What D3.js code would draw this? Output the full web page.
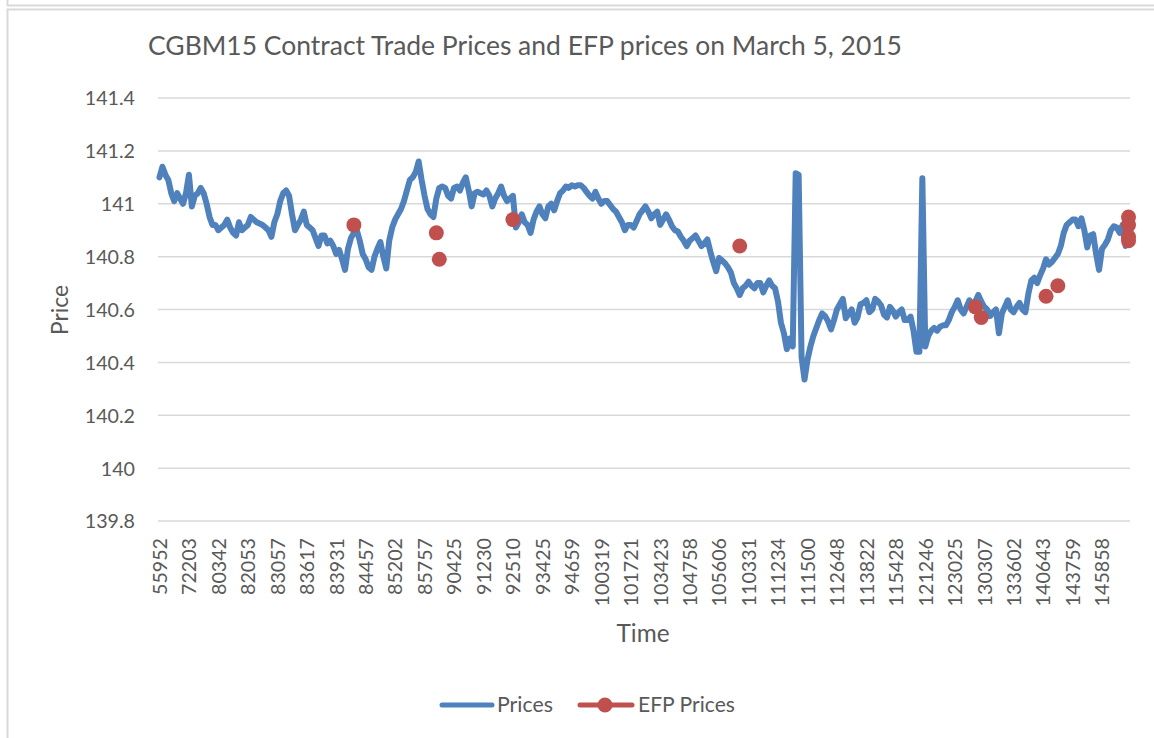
<!DOCTYPE html>
<html>
<head>
<meta charset="utf-8">
<script src="https://cdn.jsdelivr.net/npm/d3@7"></script>
<style>
  html, body { margin: 0; padding: 0; background: #ffffff; }
  svg { display: block; }
  text { font-family: Lato, 'Open Sans', 'Liberation Sans', sans-serif; fill: #595959; }
</style>
</head>
<body>
<svg id="chart" width="1154" height="738"></svg>
<script>
// ---------------- DATA ----------------
const chartTitle = "CGBM15 Contract Trade Prices and EFP prices on March 5, 2015";
const xAxisTitle = "Time";
const yAxisTitle = "Price";

// Category labels shown on the time axis (every 10th category)
const timeLabels = ["55952","72203","80342","82053","83057","83617","83931","84457","85202","85757",
  "90425","91230","92510","93425","94659","100319","101721","103423","104758","105606",
  "110331","111234","111500","112648","113822","115428","121246","123025","130307","133602",
  "140643","143759","145858"];
const labelEvery = 10;

// Y axis tick values
const yTicks = [139.8, 140, 140.2, 140.4, 140.6, 140.8, 141, 141.2, 141.4];

// Trade prices (sampled along the category axis)
const prices = [
  141.10,141.14,141.11,141.09,141.04,141.01,141.04,141.02,141.00,141.04,
  141.11,140.99,141.03,141.04,141.06,141.04,141.00,140.95,140.92,140.92,
  140.90,140.91,140.92,140.94,140.91,140.89,140.88,140.93,140.90,140.91,
  140.92,140.95,140.94,140.93,140.925,140.92,140.91,140.90,140.875,140.93,
  140.96,141.01,141.04,141.05,141.03,140.96,140.90,140.92,140.94,140.97,
  140.92,140.91,140.90,140.87,140.84,140.88,140.88,140.85,140.86,140.84,
  140.81,140.825,140.79,140.75,140.83,140.87,140.89,140.90,140.86,140.81,
  140.79,140.76,140.75,140.80,140.83,140.855,140.80,140.755,140.86,140.91,
  140.94,140.96,140.98,141.01,141.05,141.09,141.10,141.12,141.16,141.09,
  141.03,140.98,140.96,140.95,141.02,141.06,141.065,141.06,141.03,141.02,
  141.06,141.065,141.05,141.08,141.10,141.05,140.99,141.04,141.045,141.04,
  141.035,141.05,141.03,140.99,141.02,141.04,141.065,141.03,141.01,141.02,
  141.03,140.91,140.93,140.96,140.93,140.92,140.89,140.94,140.97,140.99,
  140.96,140.945,140.99,141.00,140.975,141.01,141.04,141.05,141.065,141.06,
  141.07,141.065,141.07,141.07,141.06,141.045,141.03,141.02,141.045,141.02,
  141.00,141.01,141.01,140.995,140.98,140.97,140.95,140.93,140.90,140.92,
  140.92,140.91,140.935,140.96,140.975,140.99,140.97,140.945,140.96,140.97,
  140.92,140.94,140.96,140.94,140.915,140.90,140.895,140.875,140.86,140.84,
  140.86,140.87,140.88,140.86,140.84,140.85,140.865,140.82,140.78,140.745,
  140.795,140.785,140.775,140.76,140.74,140.70,140.68,140.655,140.68,140.69,
  140.705,140.69,140.68,140.70,140.70,140.665,140.69,140.71,140.69,140.68,
  140.63,140.55,140.51,140.45,140.49,140.46,141.115,141.11,140.42,140.335,
  140.41,140.46,140.50,140.53,140.56,140.585,140.575,140.555,140.525,140.56,
  140.60,140.62,140.64,140.567,140.585,140.60,140.55,140.57,140.62,140.625,
  140.635,140.59,140.60,140.64,140.63,140.615,140.58,140.57,140.61,140.595,
  140.573,140.59,140.60,140.56,140.56,140.573,140.52,140.44,140.44,141.096,
  140.46,140.50,140.52,140.53,140.52,140.535,140.54,140.54,140.56,140.59,
  140.61,140.635,140.60,140.585,140.61,140.635,140.62,140.63,140.655,140.63,
  140.61,140.60,140.575,140.59,140.60,140.51,140.585,140.61,140.635,140.60,
  140.59,140.61,140.625,140.60,140.59,140.66,140.71,140.72,140.70,140.73,
  140.755,140.79,140.77,140.78,140.795,140.81,140.84,140.89,140.92,140.93,
  140.94,140.94,140.915,140.945,140.90,140.835,140.88,140.885,140.81,140.75,
  140.83,140.845,140.865,140.90,140.915,140.91,140.89,140.92,140.84,140.95
];

// EFP prices: category index and value
const efpIndex = [66, 94, 95, 120, 197, 277, 279, 301, 305, 329, 329, 329, 329];
const efpValue = [140.92, 140.89, 140.79, 140.94, 140.84, 140.61, 140.57, 140.65, 140.69, 140.95, 140.92, 140.875, 140.86];

const seriesNames = ["Prices", "EFP Prices"];
const colors = { prices: "#4f81bd", efp: "#c0504d" };

// ---------------- DRAW ----------------
const svg = d3.select("#chart");
const plot = { left: 158, right: 1130, top: 98, bottom: 521 };

// chart frame (spreadsheet chart border)
svg.append("path").attr("d", "M7.5,0 V5.5 H1154").attr("fill", "none").attr("stroke", "#d9d9d9").attr("stroke-width", 2);
svg.append("rect").attr("x", 7.5).attr("y", 9.5).attr("width", 1200).attr("height", 800)
  .attr("fill", "#fff").attr("stroke", "#d9d9d9").attr("stroke-width", 2);

const x = d3.scaleLinear().domain([-0.5, prices.length - 0.5]).range([plot.left, plot.right]);
const y = d3.scaleLinear().domain([139.8, 141.4]).range([plot.bottom, plot.top]);

function fit(sel, target) {
  const base = 20;
  sel.style("font-size", base + "px");
  const w = sel.node().getComputedTextLength();
  sel.style("font-size", (base * target / w).toFixed(2) + "px");
}

// gridlines
svg.append("g").selectAll("line").data(yTicks).join("line")
  .attr("x1", plot.left).attr("x2", plot.right)
  .attr("y1", d => y(d)).attr("y2", d => y(d))
  .attr("stroke", "#d9d9d9").attr("stroke-width", 1.5);

// Y axis
const yAxis = svg.append("g").attr("transform", `translate(${plot.left - 23},0)`)
  .call(d3.axisLeft(y).tickValues(yTicks).tickSize(0).tickPadding(0)
    .tickFormat(d => String(+d.toFixed(1))));
yAxis.select(".domain").remove();
yAxis.selectAll("text").style("fill", "#595959").attr("dy", "0.35em");

// X axis
const tickIdx = timeLabels.map((_, i) => i * labelEvery);
const xAxis = svg.append("g").attr("transform", `translate(0,${plot.bottom})`)
  .call(d3.axisBottom(x).tickValues(tickIdx).tickSize(0)
    .tickFormat((d, i) => timeLabels[i]));
xAxis.select(".domain").remove();
xAxis.selectAll("text")
  .attr("transform", "rotate(-90)")
  .attr("x", -17).attr("y", 0).attr("dy", "0.35em")
  .style("text-anchor", "end").style("fill", "#595959");

// font sizing for tick labels
const probe = svg.append("text").text("55952");
fit(probe, 57);
const tickFont = probe.style("font-size");
probe.remove();
xAxis.selectAll("text").style("font-size", tickFont);
yAxis.selectAll("text").style("font-size", tickFont);
xAxis.attr("font-family", null);
yAxis.attr("font-family", null);

// price line
const line = d3.line().x((d, i) => x(i)).y(d => y(d));
svg.append("path").datum(prices)
  .attr("d", line)
  .attr("fill", "none").attr("stroke", colors.prices)
  .attr("stroke-width", 6).attr("stroke-linejoin", "round").attr("stroke-linecap", "round");

// EFP markers
svg.append("g").selectAll("circle").data(efpIndex).join("circle")
  .attr("cx", d => x(d)).attr("cy", (d, i) => y(efpValue[i]))
  .attr("r", 7.5).attr("fill", colors.efp);

// Title
const title = svg.append("text").attr("x", 148).attr("y", 55).text(chartTitle);
fit(title, 754);

// Axis titles
const tX = svg.append("text").attr("x", 643).attr("y", 642).attr("text-anchor", "middle").text(xAxisTitle);
fit(tX, 53);
const tY = svg.append("text").attr("transform", "translate(60,310) rotate(-90)")
  .attr("text-anchor", "middle").attr("dy", "0.35em").text(yAxisTitle);
fit(tY, 50);

// Legend
const lg = svg.append("g");
lg.append("line").attr("x1", 442).attr("x2", 492).attr("y1", 705).attr("y2", 705)
  .attr("stroke", colors.prices).attr("stroke-width", 5).attr("stroke-linecap", "round");
const l1 = lg.append("text").attr("x", 497).attr("y", 705).attr("dy", "0.35em").text(seriesNames[0]);
fit(l1, 56);
lg.append("line").attr("x1", 580).attr("x2", 632).attr("y1", 705).attr("y2", 705)
  .attr("stroke", colors.efp).attr("stroke-width", 5).attr("stroke-linecap", "round");
lg.append("circle").attr("cx", 605).attr("cy", 705).attr("r", 7.5).attr("fill", colors.efp);
const l2 = lg.append("text").attr("x", 638).attr("y", 705).attr("dy", "0.35em").text(seriesNames[1]);
fit(l2, 97);
</script>
</body>
</html>
